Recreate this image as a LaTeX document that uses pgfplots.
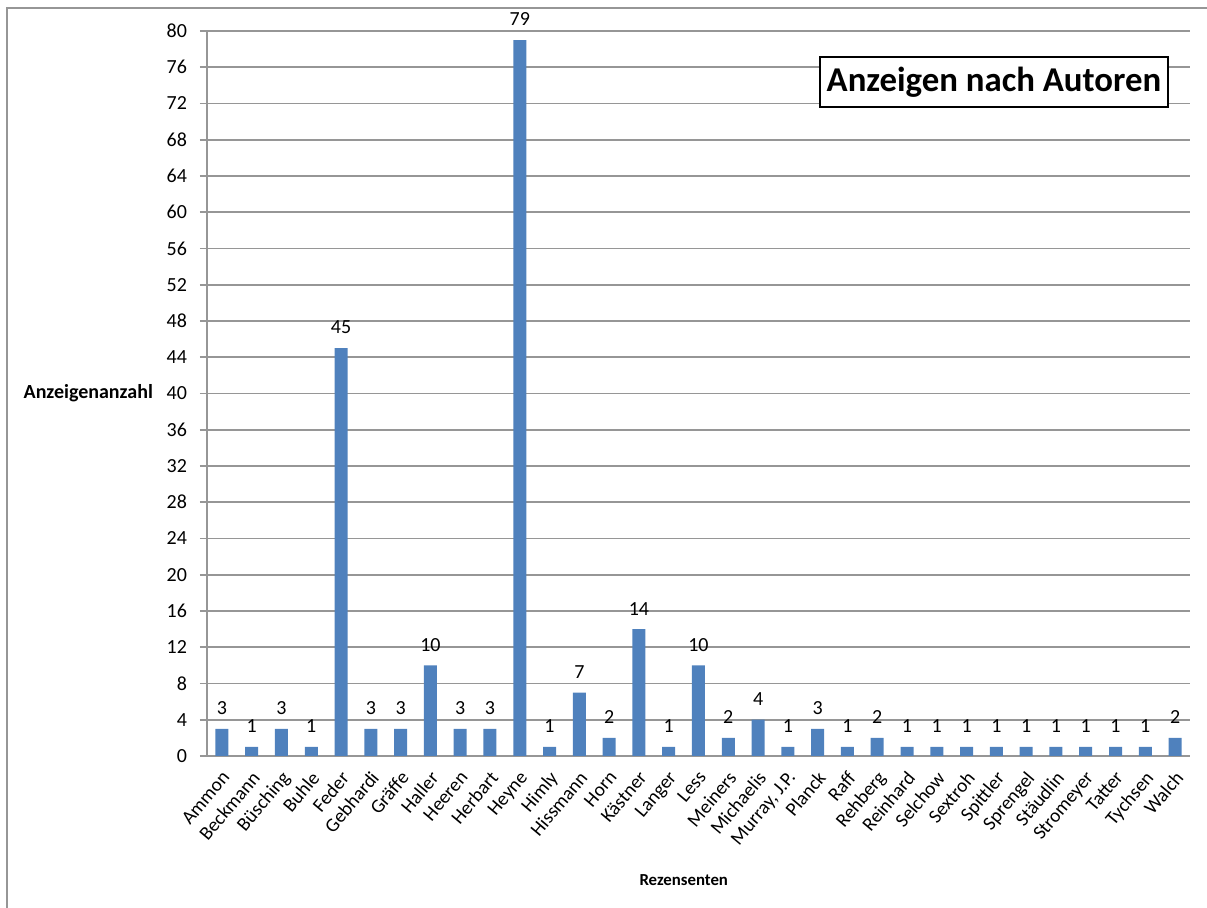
\documentclass[border=0pt]{standalone}
\usepackage{fontspec}
\setmainfont{Carlito}
\usepackage{pgfplots}
\pgfplotsset{compat=1.18}
\definecolor{barblue}{RGB}{79,129,189}
\definecolor{gridgray}{RGB}{150,150,150}
\begin{document}
\begin{tikzpicture}
\path[use as bounding box] (0,0) rectangle (603.5pt,454pt);
\draw[gridgray, line width=1pt] (3.5pt,0) -- (3.5pt,450pt) -- (603.5pt,450pt);
\begin{axis}[
  at={(103.5pt,76pt)}, anchor=south west,
  scale only axis, width=491.5pt, height=362.5pt,
  ymin=0, ymax=80, ytick={0,4,...,80},
  xmin=-0.5, xmax=32.5,
  xtick={0,...,32},
  xticklabels={Ammon,Beckmann,Büsching,Buhle,Feder,Gebhardi,Gräffe,Haller,Heeren,Herbart,Heyne,Himly,Hissmann,Horn,Kästner,Langer,Less,Meiners,Michaelis,{Murray, J.P.},Planck,Raff,Rehberg,Reinhard,Selchow,Sextroh,Spittler,Sprengel,Stäudlin,Stromeyer,Tatter,Tychsen,Walch},
  xticklabel style={xshift=-0.7pt, yshift=-1.8pt, rotate=50, anchor=north east, font=\fontsize{9.7pt}{11pt}\selectfont, inner sep=1pt},
  yticklabel style={font=\fontsize{10pt}{12pt}\selectfont, xshift=-3pt},
  /pgf/number format/assume math mode=true,
  axis x line*=bottom, axis y line*=left,
  axis line style={draw=gridgray, line width=0.8pt, -},
  ymajorgrids, grid style={draw=gridgray, line width=0.8pt},
  xtick style={draw=none},
  ytick style={draw=gridgray, line width=0.8pt},
  tick align=outside, major tick length=3.5pt,
  ylabel={Anzeigenanzahl},
  ylabel style={rotate=-90, anchor=east, at={(axis description cs:0,0.5)}, xshift=-23.5pt, font=\bfseries\fontsize{10pt}{12pt}\selectfont},
  xlabel={Rezensenten},
  xlabel style={at={(axis description cs:0.485,0)}, anchor=center, yshift=-62pt, font=\bfseries\fontsize{8.4pt}{10pt}\selectfont},
  clip=false,
]
\addplot[ybar, bar width=6.5pt, fill=barblue, draw=none,
  nodes near coords, nodes near coords style={font=\fontsize{10pt}{12pt}\selectfont, black, yshift=3.5pt}]
  coordinates {
  (0,3) (1,1) (2,3) (3,1) (4,45) (5,3) (6,3) (7,10) (8,3) (9,3) (10,79)
  (11,1) (12,7) (13,2) (14,14) (15,1) (16,10) (17,2) (18,4) (19,1) (20,3)
  (21,1) (22,2) (23,1) (24,1) (25,1) (26,1) (27,1) (28,1) (29,1) (30,1)
  (31,1) (32,2)
  };
\node[draw=black, fill=white, line width=0.6pt, minimum width=174pt, minimum height=25pt, inner sep=0pt, font=\bfseries\fontsize{17.4pt}{20pt}\selectfont]
  at (rel axis cs:0.8006,0.9297) {Anzeigen nach Autoren};
\end{axis}
\end{tikzpicture}
\end{document}
